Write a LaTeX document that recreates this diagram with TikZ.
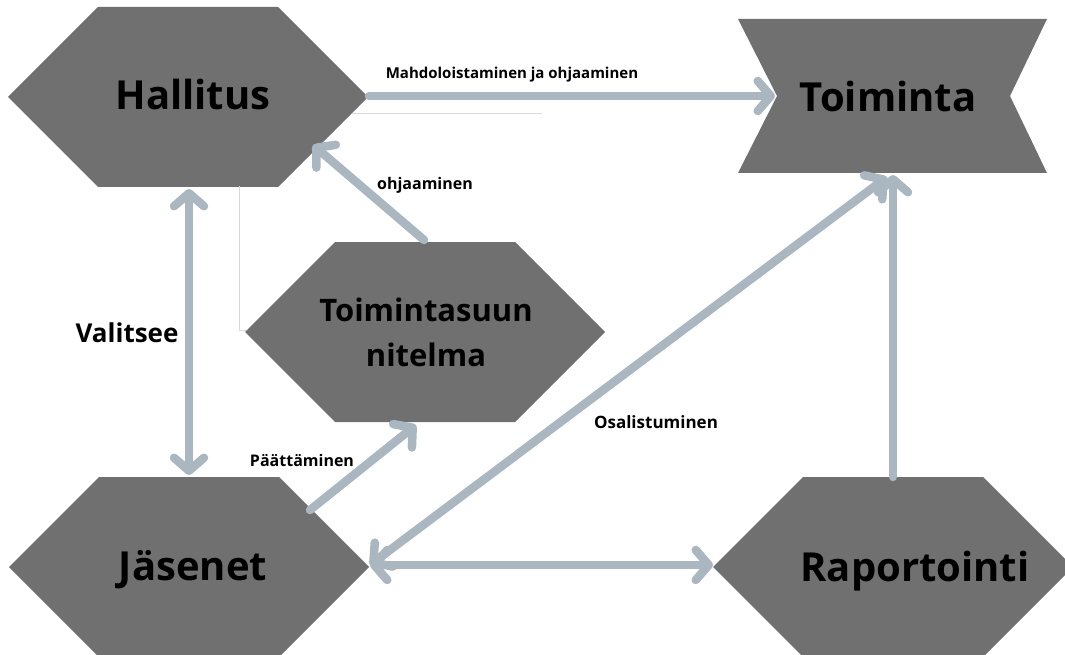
\documentclass[tikz,border=0pt]{standalone}
\usepackage{fontspec}
\setmainfont{Open Sans}
\usetikzlibrary{positioning,arrows.meta}

\definecolor{boxgray}{HTML}{707070}
\definecolor{flowgray}{HTML}{AAB7C0}
\definecolor{thingray}{HTML}{D9D9D9}

\tikzset{
  >={Straight Barb[length=13pt,width=30pt,round]},
  flow/.style={draw=flowgray, line width=8.5pt, line cap=round},
  guide/.style={draw=thingray, line width=0.8pt},
  bigtext/.style={font=\fontsize{40}{48}\selectfont\bfseries, anchor=base},
  flowtext/.style={font=\fontsize{16}{19}\selectfont\bfseries}
}

\begin{document}
\begin{tikzpicture}[x=1pt,y=-1pt]
\useasboundingbox (0,0) rectangle (1065,655);

% shape centres
\coordinate (hal) at (188,97);
\coordinate (jas) at (189,567);
\coordinate (suun) at (425,332);
\coordinate (rap) at (893,567);

\foreach \c in {hal,jas,suun,rap}
  \fill[boxgray] (\c) ++(-180,0) -- ++(90,-90) -- ++(180,0) -- ++(90,90) -- ++(-90,90) -- ++(-180,0) -- cycle;
\fill[boxgray] (738,19) -- (1047,19) -- (1010,96) -- (1047,173) -- (738,173) -- (777,96) -- cycle;

% connector ends
\coordinate (hal-e) at (369,96);
\coordinate (hal-se) at (313,145);
\coordinate (hal-s) at (189,189);
\coordinate (hal-e2) at (352,113);
\coordinate (hal-s2) at (239,186);
\coordinate (guide-end) at (542,113);
\coordinate (suun-n) at (424,240);
\coordinate (suun-s) at (416,425);
\coordinate (suun-w) at (246,330);
\coordinate (jas-n) at (189,475);
\coordinate (jas-ne) at (310,510);
\coordinate (jas-e) at (370,565);
\coordinate (toi-w) at (775,96);
\coordinate (toi-s) at (893,175);
\coordinate (toi-s2) at (887,177);
\coordinate (rap-w) at (713,565);
\coordinate (rap-n) at (893,477);

% texts
\node[bigtext] (hal-t) at (193,110) {Hallitus};
\node[bigtext] (jas-t) at (193,580) {Jäsenet};
\node[bigtext] (toi-t) at (888,112) {Toiminta};
\node[bigtext] (rap-t) at (915,581) {Raportointi};
\node[font=\fontsize{31}{45}\selectfont\bfseries, align=center] (suun-t) at (426,332) {Toimintasuun\\nitelma};

\node[flowtext, font=\fontsize{15}{18}\selectfont\bfseries] (mahd-l) at (512,75) {Mahdoloistaminen ja ohjaaminen};
\node[flowtext] (ohj-l) at (425,185) {ohjaaminen};
\node[font=\fontsize{26}{30}\selectfont\bfseries] (val-l) at (127,333) {Valitsee};
\node[flowtext] (paat-l) at (302,460) {Päättäminen};
\node[flowtext, font=\fontsize{17}{20}\selectfont\bfseries] (osa-l) at (656,422) {Osalistuminen};

% connectors
\draw[guide] (hal-e2) -- (guide-end);
\draw[guide] (hal-s2) |- (suun-w);
\draw[flow,->] (hal-e) -- (toi-w);
\draw[flow,->] (suun-n) -- (hal-se);
\draw[flow,<->] (hal-s) -- (jas-n);
\draw[flow,->] (jas-ne) -- (suun-s);
\draw[flow,<->] (jas-e) -- (toi-s2);
\draw[flow,<->] (jas-e) -- (rap-w);
\draw[flow,->] (rap-n) -- (toi-s);
\end{tikzpicture}
\end{document}
